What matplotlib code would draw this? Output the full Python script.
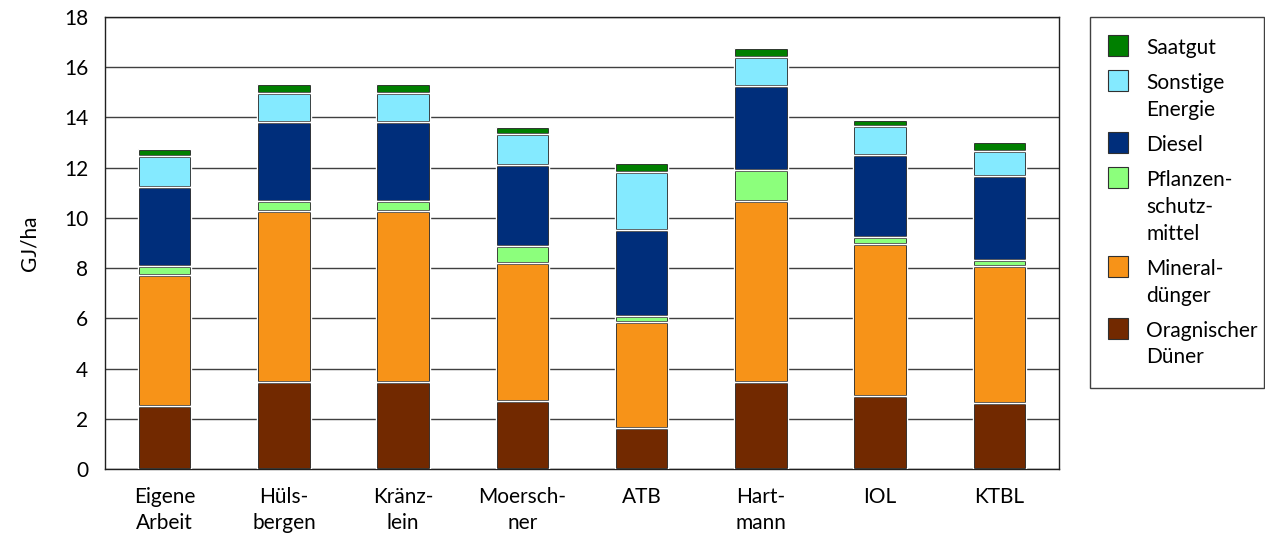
import numpy as np
import matplotlib
matplotlib.use("Agg")
import matplotlib.pyplot as plt
from matplotlib.patches import Rectangle

plt.rcParams["font.family"] = ["Lato", "DejaVu Sans"]
plt.rcParams["font.size"] = 15

# categories (line breaks as in the original)
categories = ["Eigene\nArbeit", "Hüls-\nbergen", "Kränz-\nlein", "Moersch-\nner",
              "ATB", "Hart-\nmann", "IOL", "KTBL"]

# stacked components in GJ/ha, bottom to top
organischer_duenger = [2.52, 3.47, 3.47, 2.69, 1.65, 3.45, 2.89, 2.63]
mineralduenger = [5.20, 6.82, 6.82, 5.52, 4.19, 7.24, 6.07, 5.44]
pflanzenschutz = [0.37, 0.38, 0.38, 0.68, 0.27, 1.23, 0.28, 0.26]
diesel = [3.14, 3.16, 3.16, 3.21, 3.42, 3.35, 3.25, 3.32]
sonstige_energie = [1.24, 1.13, 1.13, 1.23, 2.30, 1.12, 1.16, 1.02]
saatgut = [0.28, 0.37, 0.37, 0.28, 0.37, 0.37, 0.24, 0.36]

series = [organischer_duenger, mineralduenger, pflanzenschutz, diesel,
          sonstige_energie, saatgut]
labels = ["Oragnischer\nDüner", "Mineral-\ndünger", "Pflanzen-\nschutz-\nmittel",
          "Diesel", "Sonstige\nEnergie", "Saatgut"]
colors = ["#722900", "#F79318", "#8CFF7C", "#002E7B", "#84EAFF", "#007F00"]

W, H = 1265, 537
fig = plt.figure(figsize=(W / 100, H / 100), dpi=100)
ax = fig.add_axes([105 / W, 1 - 469 / H, (1059 - 105) / W, (469 - 17) / H])

x = np.arange(len(categories))
bottom = np.zeros(len(categories))
for vals, col in zip(series, colors):
    fill = ax.bar(x, vals, 0.45, bottom=bottom, color=col, linewidth=0, zorder=2)
    edge = ax.bar(x, vals, 0.45, bottom=bottom, facecolor="none",
                  edgecolor="black", linewidth=2.0, zorder=3)
    for e, f in zip(edge, fill):
        e.set_clip_path(f)
    ax.bar(x, vals, 0.45, bottom=bottom, facecolor="none",
           edgecolor="white", linewidth=1.0, zorder=4)
    bottom += np.array(vals)

ax.set_xlim(-0.5, len(categories) - 0.5)
ax.set_ylim(0, 18)
ax.set_yticks(np.arange(0, 19, 2))
ax.set_xticks(x)
ax.set_xticklabels(categories, linespacing=1.4)
ax.tick_params(axis="both", length=0, labelsize=15)
ax.tick_params(axis="y", pad=12)
ax.tick_params(axis="x", pad=13)
ax.yaxis.grid(True, color="#404040", linewidth=1)
ax.set_axisbelow(True)
for sp in ax.spines.values():
    sp.set_color("#202020")
    sp.set_linewidth(1)

fig.text(30 / W, 1 - 243 / H, "GJ/ha", rotation=90, ha="center", va="center",
         fontsize=15)

# legend box, entries top to bottom, squares aligned with the first text line
fig.add_artist(Rectangle((1090 / W, 1 - 388 / H), (1264 - 1090) / W, (388 - 17) / H,
                         transform=fig.transFigure, facecolor="white",
                         edgecolor="#404040", linewidth=1))
line_h, gap = 26.7, 8.5
y = 48
for lab, col in zip(labels[::-1], colors[::-1]):
    lines = lab.split("\n")
    fig.add_artist(Rectangle((1108 / W, 1 - (y + 8) / H), 20 / W, 21 / H,
                             transform=fig.transFigure, facecolor=col,
                             edgecolor="#303030", linewidth=0.8))
    for i, ln in enumerate(lines):
        fig.text(1146 / W, 1 - (y + i * line_h) / H, ln, ha="left", va="center",
                 fontsize=15)
    y += len(lines) * line_h + gap

fig.savefig("out.png", dpi=100)
